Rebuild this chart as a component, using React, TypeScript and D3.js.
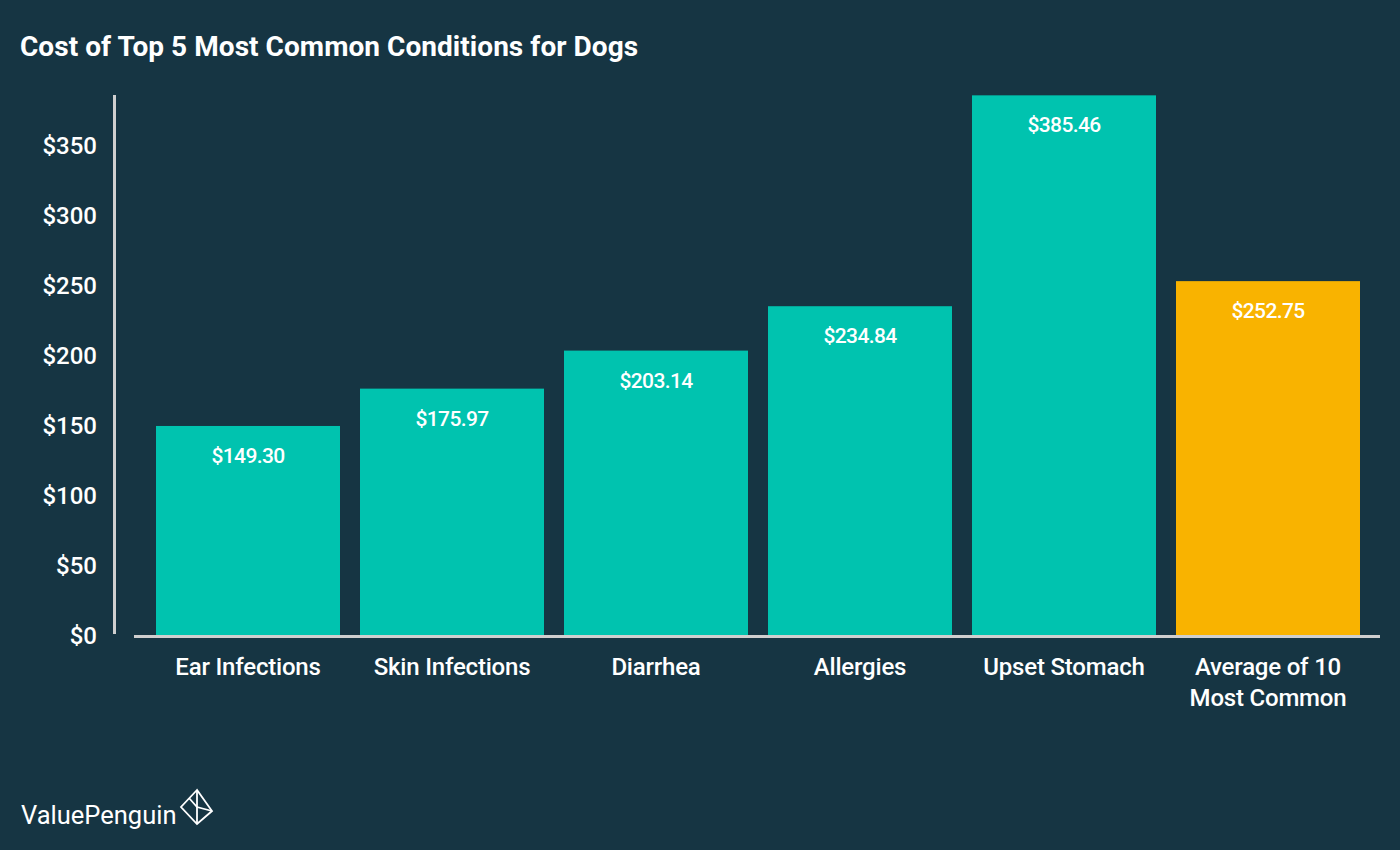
import { useEffect, useRef } from 'react';
import * as d3 from 'd3';

const categories = ['Ear Infections', 'Skin Infections', 'Diarrhea', 'Allergies', 'Upset Stomach', 'Average of 10\nMost Common'];
const costs = [149.3, 175.97, 203.14, 234.84, 385.46, 252.75];
const highlighted = [false, false, false, false, false, true];
const yTicks = [0, 50, 100, 150, 200, 250, 300, 350];

const BG = '#163543';
const TEAL = '#00c3af';
const GOLD = '#f9b300';
const FONT = 'Roboto, "Open Sans", sans-serif';

export default function App() {
  const svgRef = useRef<SVGSVGElement>(null);

  useEffect(() => {
    if (!svgRef.current) return;
    document.body.style.margin = '0';
    document.body.style.background = BG;
    const width = 1400;
    const height = 850;
    const svg = d3.select(svgRef.current);
    svg.selectAll('*').remove();

    svg.append('rect').attr('width', width).attr('height', height).attr('fill', BG);

    svg.append('text')
      .attr('x', 20)
      .attr('y', 56)
      .attr('fill', '#fff')
      .attr('font-size', 28)
      .attr('font-weight', 700)
      .attr('font-family', FONT)
      .attr('letter-spacing', 0.05)
      .text('Cost of Top 5 Most Common Conditions for Dogs');

    const x = d3.scaleBand<string>()
      .domain(categories)
      .range([146, 1370])
      .paddingInner(0.098)
      .paddingOuter(0.049);

    const y = d3.scaleLinear().domain([0, 385.7]).range([635, 95]);

    // bars
    svg.append('g')
      .selectAll('rect')
      .data(categories)
      .join('rect')
      .attr('x', (d) => x(d) ?? 0)
      .attr('y', (_d, i) => y(costs[i]))
      .attr('width', x.bandwidth())
      .attr('height', (_d, i) => y(0) - y(costs[i]))
      .attr('fill', (_d, i) => (highlighted[i] ? GOLD : TEAL));

    // value labels
    svg.append('g')
      .selectAll('text')
      .data(categories)
      .join('text')
      .attr('x', (d) => (x(d) ?? 0) + x.bandwidth() / 2)
      .attr('y', (_d, i) => y(costs[i]) + 37)
      .attr('text-anchor', 'middle')
      .attr('fill', '#fff')
      .attr('font-size', 21)
      .attr('font-weight', 500)
      .attr('font-family', FONT)
      .attr('letter-spacing', -0.6)
      .text((_d, i) => `$${costs[i].toFixed(2)}`);

    // y axis
    const yAxis = svg.append('g')
      .attr('transform', 'translate(114,0)')
      .call(d3.axisLeft(y).tickValues(yTicks).tickSize(0).tickPadding(17).tickFormat((d) => `$${d}`));
    yAxis.select('.domain').remove();
    yAxis.selectAll('text')
      .attr('fill', '#fff')
      .attr('font-size', 24)
      .attr('font-weight', 500)
      .attr('font-family', FONT)
      .attr('dy', '0.36em');
    svg.append('line')
      .attr('x1', 114.5).attr('x2', 114.5)
      .attr('y1', 95).attr('y2', 634)
      .attr('stroke', '#cfcfcf').attr('stroke-width', 3);

    // x axis
    svg.append('line')
      .attr('x1', 134).attr('x2', 1380)
      .attr('y1', 636.5).attr('y2', 636.5)
      .attr('stroke', '#cfcfcf').attr('stroke-width', 3);

    const xl = svg.append('g')
      .selectAll('text')
      .data(categories)
      .join('text')
      .attr('x', (d) => (x(d) ?? 0) + x.bandwidth() / 2)
      .attr('y', 675)
      .attr('text-anchor', 'middle')
      .attr('fill', '#fff')
      .attr('font-size', 24)
      .attr('font-weight', 500)
      .attr('font-family', FONT)
      .attr('letter-spacing', -0.2);
    xl.each(function (d) {
      const t = d3.select(this);
      d.split('\n').forEach((line, i) => {
        t.append('tspan')
          .attr('x', (x(d) ?? 0) + x.bandwidth() / 2)
          .attr('dy', i === 0 ? 0 : 31)
          .text(line);
      });
    });

    // logo
    svg.append('text')
      .attr('x', 21)
      .attr('y', 824)
      .attr('fill', '#fff')
      .attr('font-size', 25.5)
      .attr('font-family', FONT)
      .text('ValuePenguin');
    const logo = svg.append('g')
      .attr('fill', 'none')
      .attr('stroke', '#fff')
      .attr('stroke-width', 1.8)
      .attr('stroke-linejoin', 'miter');
    logo.append('path').attr('d', 'M197,790 L181,807 L197,824 L212,811 Z');
    logo.append('path').attr('d', 'M197,790 L197,824');
    logo.append('path').attr('d', 'M189,798 L197,807 L212,811');
  }, []);

  return <svg ref={svgRef} width={1400} height={850} style={{ display: 'block' }} />;
}
